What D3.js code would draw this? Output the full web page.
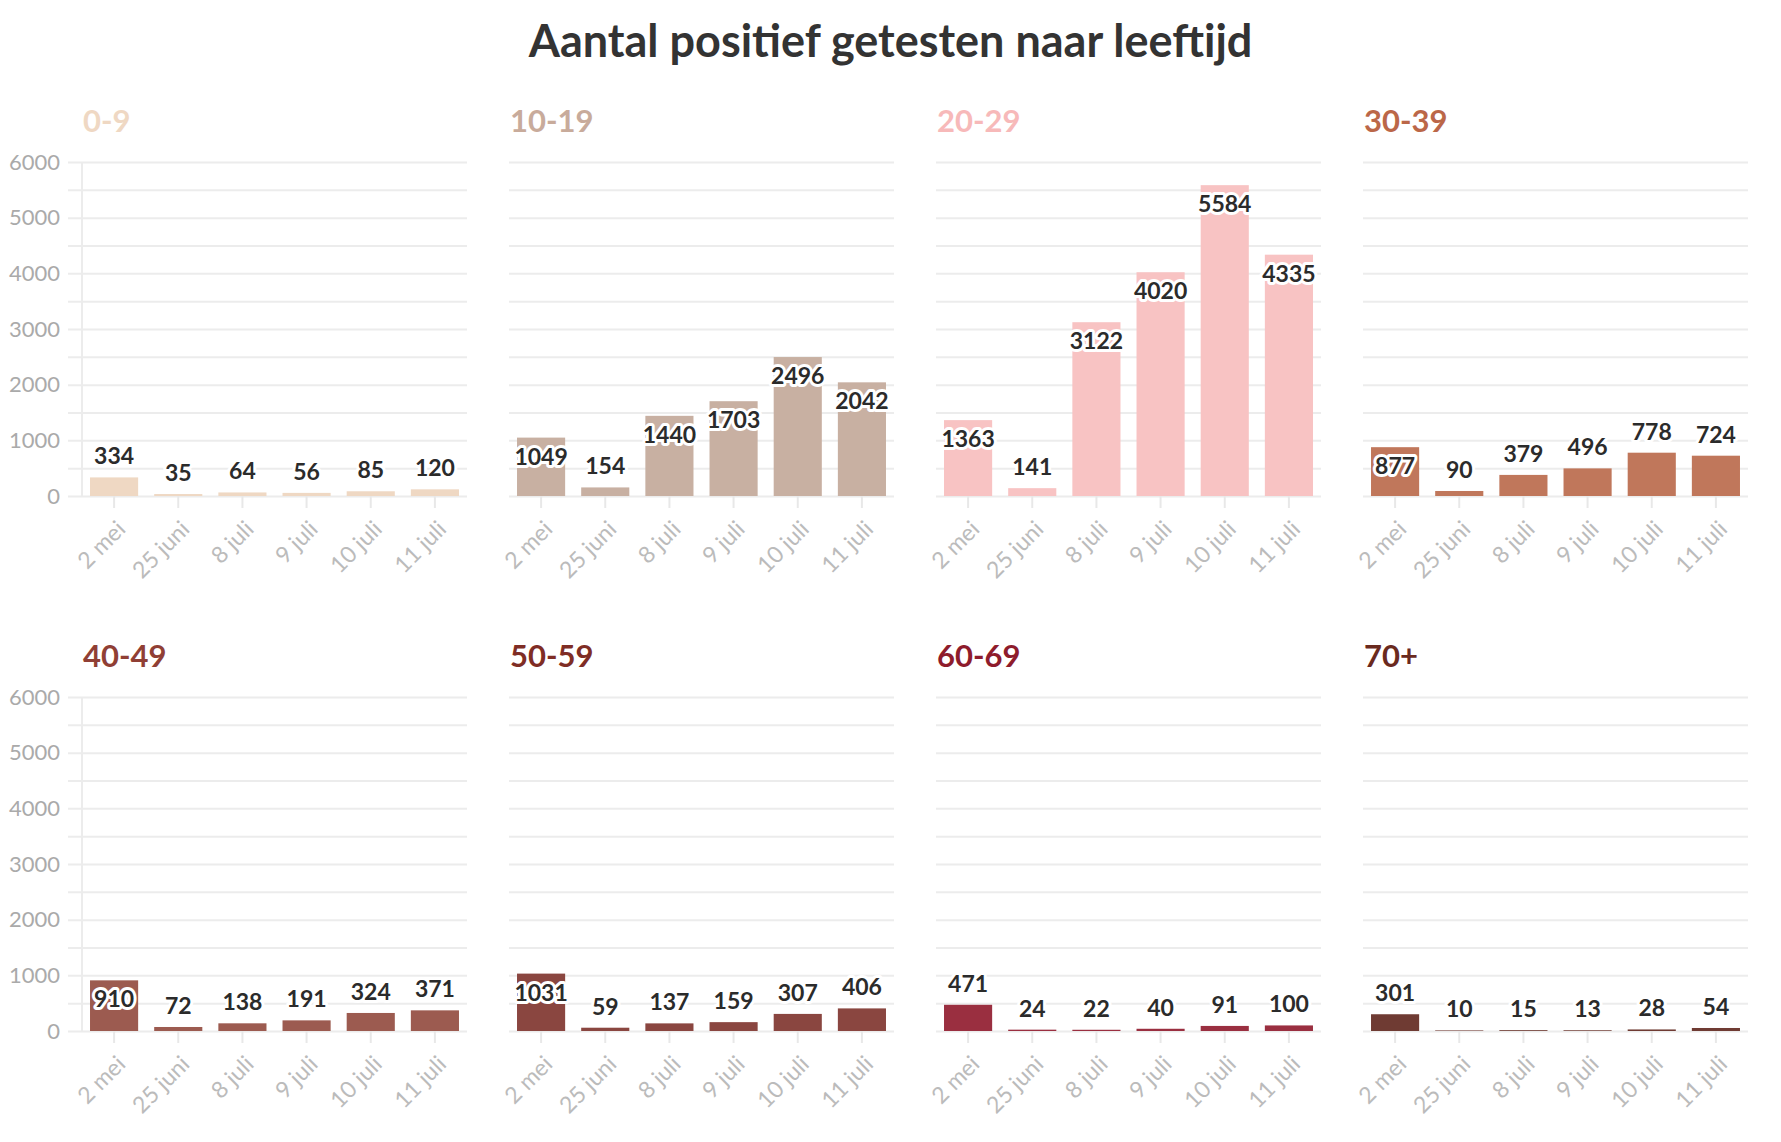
<!DOCTYPE html>
<html>
<head>
<meta charset="utf-8">
<script src="https://cdn.jsdelivr.net/npm/d3@7"></script>
<style>
  html, body { margin: 0; padding: 0; background: #fff; }
  svg { display: block; font-family: Lato, "Noto Sans", sans-serif; }
</style>
</head>
<body>
<svg id="chart" width="1781" height="1142"></svg>
<script>
// ---- data ----
const chartTitle = "Aantal positief getesten naar leeftijd";
const dates = ["2 mei", "25 juni", "8 juli", "9 juli", "10 juli", "11 juli"];
const groups = ["0-9", "10-19", "20-29", "30-39", "40-49", "50-59", "60-69", "70+"];
const v0_9   = [334, 35, 64, 56, 85, 120];
const v10_19 = [1049, 154, 1440, 1703, 2496, 2042];
const v20_29 = [1363, 141, 3122, 4020, 5584, 4335];
const v30_39 = [877, 90, 379, 496, 778, 724];
const v40_49 = [910, 72, 138, 191, 324, 371];
const v50_59 = [1031, 59, 137, 159, 307, 406];
const v60_69 = [471, 24, 22, 40, 91, 100];
const v70    = [301, 10, 15, 13, 28, 54];
const seriesValues = [v0_9, v10_19, v20_29, v30_39, v40_49, v50_59, v60_69, v70];
const yTickLabels = [0, 1000, 2000, 3000, 4000, 5000, 6000];
const gridValues = [0, 500, 1000, 1500, 2000, 2500, 3000, 3500, 4000, 4500, 5000, 5500, 6000];
const barColors   = ["#efd8c3", "#c8b0a2", "#f8c3c3", "#c0775b", "#9c5b50", "#8a4640", "#9a2f40", "#6f3b33"];
const titleColors = ["#efd8c3", "#c8ab9b", "#f7b9b9", "#bb6748", "#903f35", "#7f2d25", "#8e1c2c", "#6a2a1e"];

// ---- layout ----
const svg = d3.select("#chart");
const W = 1781;
const panelW = 385, panelH = 334;
const colX = c => 82 + 427 * c;
const rowY = r => 162 + 535 * r;

svg.append("text")
  .attr("x", W / 2).attr("y", 57)
  .attr("text-anchor", "middle")
  .attr("font-size", 45).attr("font-weight", 700)
  .attr("fill", "#333")
  .text(chartTitle);

const x = d3.scaleBand().domain(dates).range([0, panelW]).paddingInner(0.25).paddingOuter(0.125);
const y = d3.scaleLinear().domain([0, 6000]).range([panelH, 0]);

groups.forEach((g, i) => {
  const col = i % 4, row = Math.floor(i / 4);
  const first = col === 0;
  const gp = svg.append("g").attr("transform", `translate(${colX(col)},${rowY(row)})`);
  const vals = seriesValues[i];

  // panel title
  gp.append("text")
    .attr("x", 1).attr("y", -30)
    .attr("font-size", 31).attr("font-weight", 700)
    .attr("fill", titleColors[i])
    .text(g);

  // y grid + labels
  const ext = first ? 14 : 0;
  const yAxis = d3.axisLeft(y)
    .tickValues(gridValues)
    .tickSize(-(panelW + ext))
    .tickPadding(8)
    .tickFormat(d => (first && yTickLabels.includes(d)) ? d : "");
  const ya = gp.append("g").attr("transform", `translate(${-ext},0)`).call(yAxis);
  ya.select(".domain").remove();
  ya.selectAll(".tick line").attr("stroke", "#ececec").attr("stroke-width", 2);
  ya.selectAll(".tick text").attr("fill", "#aaa").attr("font-size", 22)
    .attr("font-family", "Lato, sans-serif");

  if (first) {
    gp.append("line")
      .attr("x1", 0).attr("x2", 0).attr("y1", y(6000)).attr("y2", y(0))
      .attr("stroke", "#ececec").attr("stroke-width", 2);
  }

  // x axis
  const xAxis = d3.axisBottom(x).tickSize(12).tickPadding(0);
  const xa = gp.append("g").attr("transform", `translate(0,${panelH})`).call(xAxis);
  xa.select(".domain").remove();
  xa.selectAll(".tick line").attr("stroke", "#e8e8e8").attr("stroke-width", 2);
  xa.selectAll(".tick text")
    .attr("fill", "#bbb").attr("font-size", 23)
    .attr("font-family", "Lato, sans-serif")
    .attr("x", 0).attr("y", 0).attr("dy", "0.35em")
    .attr("text-anchor", "end")
    .attr("transform", "translate(7,29) rotate(-45)");

  // bars
  gp.selectAll("rect.bar").data(vals).enter().append("rect")
    .attr("class", "bar")
    .attr("x", (d, j) => x(dates[j]))
    .attr("width", x.bandwidth())
    .attr("y", d => y(d))
    .attr("height", d => y(0) - y(d))
    .attr("fill", barColors[i]);

  // value labels
  gp.selectAll("text.val").data(vals).enter().append("text")
    .attr("class", "val")
    .attr("x", (d, j) => x(dates[j]) + x.bandwidth() / 2)
    .attr("y", d => (y(0) - y(d) > 46) ? y(d) + 27 : y(d) - 13)
    .attr("text-anchor", "middle")
    .attr("font-size", 23).attr("font-weight", 700)
    .attr("fill", "#2b2b2b")
    .attr("stroke", "#fff").attr("stroke-width", 6)
    .attr("stroke-linejoin", "round")
    .attr("paint-order", "stroke")
    .text(d => d);
});
</script>
</body>
</html>
